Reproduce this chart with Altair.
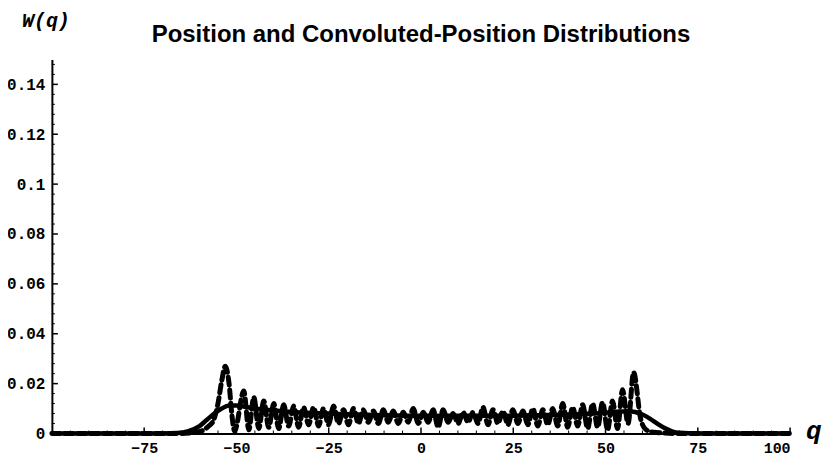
import altair as alt
import pandas as pd

# Solid (convoluted) distribution
solid_q = [-100, -70, -66, -63, -60, -58, -56, -54, -52, -50, -47, -44, -40, -35, -30, -25, -20,
           -10, 0, 10, 20, 30, 40, 45, 50, 53, 56, 58, 60, 62, 64, 66, 68, 70, 75, 100]
solid_w = [0, 0, 0.0002, 0.001, 0.003, 0.0055, 0.008, 0.0100, 0.0112, 0.0112, 0.0105, 0.0098,
           0.0092, 0.0086, 0.0082, 0.0080, 0.0077, 0.0073, 0.0071, 0.0071, 0.0071, 0.0073,
           0.0076, 0.0079, 0.0083, 0.0087, 0.0089, 0.0086, 0.0076, 0.0060, 0.0040, 0.0022,
           0.0009, 0.0003, 0, 0]

# Dashed (position) distribution: leading edge, peaks, troughs, trailing edge
dash_lead_q = [-100, -66, -62, -59.5, -57.5, -56.3, -55, -54, -53, -52, -51.2]
dash_lead_w = [0, 0, 0.0003, 0.001, 0.003, 0.005, 0.012, 0.021, 0.027, 0.020, 0.007]

dash_peak_q = [-48.0, -45.3, -42.6, -39.9, -37.2, -34.5, -31.8, -29.1, -26.4, -23.7, -21.0,
               -18.3, -15.6, -12.9, -10.2, -7.5, -4.8, -2.1, 0.6, 3.3, 6.0, 8.7, 11.4, 14.1,
               16.8, 19.5, 22.2, 24.9, 27.6, 30.3, 33.0, 35.7, 38.4, 41.1, 43.8, 46.5, 49.2,
               51.9, 54.6, 57.6]
dash_peak_w = [0.017, 0.0145, 0.013, 0.012, 0.0115, 0.011, 0.0105, 0.0105, 0.0100, 0.0110,
               0.0095, 0.0100, 0.0095, 0.0090, 0.0095, 0.0090, 0.0085, 0.0100, 0.0085, 0.0095,
               0.0095, 0.0080, 0.0085, 0.0085, 0.0105, 0.0095, 0.0090, 0.0095, 0.0090, 0.0100,
               0.0095, 0.0100, 0.0120, 0.0105, 0.0115, 0.0120, 0.0125, 0.0130, 0.0175, 0.0245]

dash_trough_q = [-50.5, -46.65, -43.95, -41.25, -38.55, -35.85, -33.15, -30.45, -27.75, -25.05,
                 -22.35, -19.65, -16.95, -14.25, -11.55, -8.85, -6.15, -3.45, -0.75, 1.95,
                 4.65, 7.35, 10.05, 12.75, 15.45, 18.15, 20.85, 23.55, 26.25, 28.95, 31.65,
                 34.35, 37.05, 39.75, 42.45, 45.15, 47.85, 50.55, 53.25, 56.1]
dash_trough_w = [0.001, 0.0015, 0.002, 0.0025, 0.002, 0.003, 0.0025, 0.0035, 0.003, 0.0035,
                 0.004, 0.0035, 0.004, 0.0045, 0.004, 0.0045, 0.004, 0.0045, 0.0040, 0.0045,
                 0.0025, 0.0045, 0.004, 0.0045, 0.004, 0.0035, 0.004, 0.0035, 0.004, 0.0035,
                 0.003, 0.0035, 0.003, 0.0025, 0.003, 0.002, 0.0025, 0.0015, 0.002, 0.004]

dash_tail_q = [59.5, 61, 63, 66, 70, 100]
dash_tail_w = [0.006, 0.0015, 0.0005, 0.0002, 0, 0]

x_major = [-75, -50, -25, 0, 25, 50, 75, 100]
x_minor = [-95, -90, -85, -80, -70, -65, -60, -55, -45, -40, -35, -30, -20, -15, -10, -5,
           5, 10, 15, 20, 30, 35, 40, 45, 55, 60, 65, 70, 80, 85, 90, 95]
y_major = [0, 0.02, 0.04, 0.06, 0.08, 0.1, 0.12, 0.14]
y_minor = [0.004, 0.008, 0.012, 0.016, 0.024, 0.028, 0.032, 0.036, 0.044, 0.048, 0.052,
           0.056, 0.064, 0.068, 0.072, 0.076, 0.084, 0.088, 0.092, 0.096, 0.104, 0.108,
           0.112, 0.116, 0.124, 0.128, 0.132, 0.136, 0.144, 0.148]

title_text = "Position and Convoluted-Position Distributions"
y_label = "W(q)"
x_label = "q"

W, H = 740, 375

solid_df = pd.DataFrame({"q": solid_q, "w": solid_w})
dash_df = pd.DataFrame({
    "q": dash_lead_q + dash_peak_q + dash_trough_q + dash_tail_q,
    "w": dash_lead_w + dash_peak_w + dash_trough_w + dash_tail_w,
}).sort_values("q")

xs = alt.Scale(domain=[-100, 100], nice=False, zero=False)
ys = alt.Scale(domain=[0, 0.15], nice=False)

mono = "Liberation Mono"
xax = alt.Axis(values=x_major, format="d", title=None, ticks=False, grid=False,
               domainColor="black", domainWidth=2, labelFont=mono, labelFontSize=15,
               labelFontWeight="bold", labelColor="black", labelPadding=7)
yax = alt.Axis(values=y_major, format="~g", title=None, ticks=False, grid=False,
               domainColor="black", domainWidth=2, labelFont=mono, labelFontSize=16,
               labelFontWeight="bold", labelColor="black", labelPadding=7)

solid = alt.Chart(solid_df).mark_line(color="black", strokeWidth=4.5, interpolate="monotone").encode(
    x=alt.X("q:Q", scale=xs, axis=xax),
    y=alt.Y("w:Q", scale=ys, axis=yax),
)
dashed = alt.Chart(dash_df).mark_line(color="black", strokeWidth=5, strokeDash=[8, 5],
                                      strokeCap="round", interpolate="monotone").encode(
    x=alt.X("q:Q", scale=xs, axis=xax),
    y=alt.Y("w:Q", scale=ys, axis=yax),
)

xmaj = alt.Chart(pd.DataFrame({"v": x_major})).mark_rule(color="black", strokeWidth=1.5).encode(
    x=alt.X("v:Q", scale=xs, axis=xax), y=alt.value(H), y2=alt.value(H - 6))
xmin = alt.Chart(pd.DataFrame({"v": x_minor})).mark_rule(color="black", strokeWidth=1).encode(
    x=alt.X("v:Q", scale=xs, axis=xax), y=alt.value(H), y2=alt.value(H - 3))
ymaj = alt.Chart(pd.DataFrame({"v": y_major})).mark_rule(color="black", strokeWidth=1.5).encode(
    y=alt.Y("v:Q", scale=ys, axis=yax), x=alt.value(0), x2=alt.value(6))
ymin = alt.Chart(pd.DataFrame({"v": y_minor})).mark_rule(color="black", strokeWidth=1).encode(
    y=alt.Y("v:Q", scale=ys, axis=yax), x=alt.value(0), x2=alt.value(3))

title = alt.Chart(pd.DataFrame({"t": [title_text]})).mark_text(
    font="Liberation Sans", fontSize=24, fontWeight="bold", align="center",
    baseline="alphabetic", color="black").encode(
    text="t:N", x=alt.value(370), y=alt.value(-17))
ylab = alt.Chart(pd.DataFrame({"t": [y_label]})).mark_text(
    font=mono, fontSize=20, fontWeight="bold", fontStyle="italic", align="left",
    baseline="alphabetic", color="black").encode(
    text="t:N", x=alt.value(-30), y=alt.value(-33))
xlab = alt.Chart(pd.DataFrame({"t": [x_label]})).mark_text(
    font=mono, fontSize=26, fontWeight="bold", fontStyle="italic", align="left",
    baseline="alphabetic", color="black").encode(
    text="t:N", x=alt.value(756), y=alt.value(381))

chart = alt.layer(ymin, ymaj, xmin, xmaj, solid, dashed, title, ylab, xlab).properties(
    width=W, height=H, autosize="none", background="white",
    padding={"left": 44, "top": 51, "right": 35, "bottom": 26},
).configure_view(stroke="transparent", strokeWidth=0)

chart.save("out.html", embed_options={"renderer": "svg", "actions": False})
